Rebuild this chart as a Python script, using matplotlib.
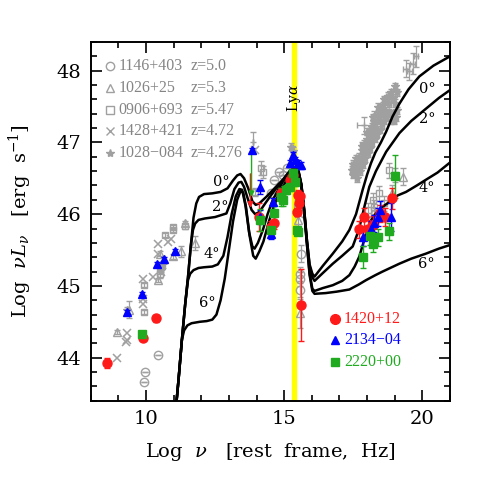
import matplotlib.pyplot as plt
import numpy as np

plt.rcParams['font.family'] = ['DejaVu Serif']
plt.rcParams['mathtext.fontset'] = 'dejavuserif'

GRAY = '#a0a0a0'
RED = '#ff1a1a'
BLUE = '#0000ff'
GREEN = '#1faa1f'

# ---- model curves (viewing angle 0,2,4,6 deg) ----
c0_x = [11.06, 11.18, 11.30, 11.42, 11.52, 11.62, 11.72, 11.82, 11.92, 12.1, 12.4, 12.7, 12.95, 13.15, 13.3, 13.42,
        13.55, 13.7, 13.85, 13.97, 14.1, 14.35, 14.65, 14.95, 15.2, 15.4, 15.52, 15.62, 15.72, 15.82, 15.92, 16.02,
        16.1, 16.4, 16.76, 17.1, 17.36, 17.6, 17.84, 18.0, 18.14, 18.3, 18.5, 18.69, 18.92, 19.17, 19.5, 19.89,
        20.4, 21.0]
c0_y = [43.2, 43.7, 44.25, 44.75, 45.12, 45.55, 45.95, 46.15, 46.24, 46.28, 46.29, 46.31, 46.36, 46.47, 46.54, 46.56,
        46.5, 46.36, 46.18, 46.13, 46.15, 46.24, 46.36, 46.48, 46.6, 46.65, 46.6, 46.42, 46.08, 45.65, 45.3, 45.17,
        45.13, 45.28, 45.45, 45.62, 45.78, 46.0, 46.34, 46.55, 46.71, 46.86, 47.0, 47.15, 47.36, 47.54, 47.74, 47.92,
        48.07, 48.2]

c2_x = [11.06, 11.18, 11.30, 11.42, 11.52, 11.62, 11.7, 11.78, 11.9, 12.13, 12.5, 12.91, 13.05, 13.2, 13.35, 13.45,
        13.55, 13.68, 13.82, 13.95, 14.1, 14.35, 14.65, 14.95, 15.2, 15.4, 15.52, 15.62, 15.72, 15.82, 15.92, 16.02,
        16.1, 16.4, 16.76, 17.1, 17.48, 17.7, 17.9, 18.08, 18.32, 18.69, 19.17, 19.6, 20.13, 20.6, 21.0]
c2_y = [43.2, 43.7, 44.25, 44.75, 45.12, 45.55, 45.78, 45.87, 45.92, 45.94, 45.96, 46.01, 46.15, 46.35, 46.44, 46.45,
        46.38, 46.22, 46.06, 46.0, 46.03, 46.17, 46.33, 46.47, 46.6, 46.65, 46.6, 46.42, 46.08, 45.65, 45.28, 45.12,
        45.07, 45.18, 45.31, 45.42, 45.55, 45.78, 46.1, 46.38, 46.6, 46.87, 47.13, 47.3, 47.47, 47.62, 47.73]

c4_x = [11.06, 11.18, 11.30, 11.42, 11.52, 11.6, 11.72, 11.9, 12.1, 12.4, 12.6, 12.8, 12.95, 13.1, 13.25, 13.38,
        13.48, 13.6, 13.73, 13.85, 13.93, 14.05, 14.23, 14.4, 14.59, 14.8, 14.95, 15.2, 15.4, 15.52, 15.62, 15.72,
        15.82, 15.92, 16.02, 16.1, 16.4, 16.76, 17.1, 17.36, 17.55, 17.72, 17.88, 18.02, 18.15, 18.32, 18.55,
        18.81, 19.1, 19.41, 19.8, 20.13, 20.55, 21.0]
c4_y = [43.2, 43.7, 44.25, 44.75, 45.08, 45.17, 45.22, 45.25, 45.26, 45.27, 45.3, 45.42, 45.68, 46.0, 46.25, 46.35,
        46.34, 46.12, 45.75, 45.55, 45.52, 45.6, 45.78, 46.0, 46.2, 46.35, 46.45, 46.58, 46.64, 46.58, 46.4, 46.05,
        45.6, 45.18, 44.96, 44.93, 44.97, 45.01, 45.07, 45.15, 45.27, 45.41, 45.62, 45.78, 45.92, 46.01, 46.1,
        46.17, 46.26, 46.31, 46.4, 46.48, 46.58, 46.72]

c6_x = [11.06, 11.18, 11.30, 11.38, 11.5, 11.65, 11.95, 12.2, 12.4, 12.55, 12.7, 12.85, 13.0, 13.15, 13.3, 13.42,
        13.52, 13.62, 13.75, 13.88, 13.97, 14.1, 14.25, 14.45, 14.6, 14.8, 14.95, 15.2, 15.4, 15.52, 15.62, 15.72,
        15.82, 15.92, 16.02, 16.1, 16.5, 16.9, 17.36, 17.7, 17.96, 18.3, 18.56, 19.17, 19.6, 20.13, 20.6, 21.0]
c6_y = [43.2, 43.7, 44.25, 44.38, 44.45, 44.48, 44.5, 44.51, 44.53, 44.6, 44.8, 45.1, 45.5, 45.9, 46.2, 46.32,
        46.3, 46.1, 45.7, 45.42, 45.38, 45.48, 45.62, 45.9, 46.08, 46.28, 46.38, 46.55, 46.63, 46.58, 46.4, 46.05,
        45.6, 45.15, 44.93, 44.89, 44.9, 44.92, 44.95, 45.02, 45.08, 45.15, 45.2, 45.31, 45.38, 45.45, 45.52, 45.57]

# ---- gray comparison sources ----
circ_x = [9.92, 9.96, 10.44, 14.53, 14.65, 14.83, 14.95, 15.1, 15.62, 15.59, 15.56, 15.56, 18.3]
circ_y = [43.66, 43.80, 44.04, 46.29, 46.47, 46.59, 46.55, 46.65, 45.45, 45.17, 45.1, 44.94, 46.0]
circ_e = [0, 0, 0, 0, 0, 0, 0, 0, 0.12, 0.1, 0.1, 0.1, 0.08]

tri_x = [8.96, 9.40, 10.44, 10.50, 10.98, 11.28, 11.43, 11.77, 15.5, 15.56, 19.31, 18.9]
tri_y = [44.36, 44.67, 45.08, 45.45, 45.41, 45.48, 45.87, 45.60, 45.92, 44.62, 46.52, 46.3]
tri_e = [0.03, 0.12, 0.03, 0.03, 0.03, 0.08, 0.03, 0.1, 0.08, 0.2, 0.12, 0.1]

sq_x = [9.92, 9.92, 10.50, 10.52, 10.68, 10.98, 10.98, 11.43, 14.17, 14.23, 13.93, 15.45,
        18.02, 18.2, 18.26, 18.44, 18.6, 18.80, 19.0]
sq_y = [44.64, 45.01, 45.24, 45.16, 45.71, 45.78, 45.82, 45.83, 46.64, 46.59, 46.31, 46.1,
        46.06, 46.2, 46.1, 46.29, 46.15, 46.61, 46.55]
sq_e = [0.03, 0.03, 0.05, 0.05, 0.03, 0.03, 0.03, 0.03, 0.1, 0.08, 0.05, 0.1,
        0.1, 0.1, 0.1, 0.1, 0.1, 0.1, 0.1]

cross_x = [8.94, 9.27, 9.32, 9.30, 9.88, 9.88, 9.90, 10.26, 10.44, 10.44, 10.56, 10.80, 10.92, 13.95, 15.55]
cross_y = [43.99, 44.22, 44.34, 44.25, 44.75, 44.82, 45.10, 45.13, 45.45, 45.59, 45.20, 45.61, 45.66, 46.9, 46.0]

star_x = [9.32, 10.56, 10.6, 15.26, 15.32,
          17.45, 17.55, 17.60, 17.65, 17.70, 17.72, 17.78, 17.82, 17.86, 17.90, 17.95, 18.00, 18.03, 18.08,
          18.12, 18.16, 18.20, 18.25, 18.30, 18.35, 18.40, 18.45, 18.52, 18.58, 18.65, 18.72, 18.80, 18.88,
          18.95, 19.02, 19.05, 18.98, 19.08, 18.90,
          17.50, 17.62, 17.75, 17.85, 17.92, 18.02, 18.10, 18.18, 18.28, 18.36, 18.45, 18.55, 18.62, 18.70,
          18.78, 18.85, 19.00, 19.10, 18.75, 18.60, 18.40, 18.20, 18.00, 17.80, 17.60, 17.48]
star_y = [44.66, 45.22, 45.3, 46.94, 46.88,
          46.62, 46.66, 46.58, 46.72, 46.66, 46.80, 46.75, 46.90, 46.84, 46.98, 46.92, 47.05, 46.98, 47.15,
          47.08, 47.22, 47.14, 47.30, 47.22, 47.38, 47.30, 47.45, 47.38, 47.52, 47.45, 47.60, 47.55, 47.70,
          47.62, 47.78, 47.35, 47.30, 47.45, 47.40,
          46.55, 46.50, 46.60, 46.70, 46.78, 46.85, 46.92, 47.00, 47.05, 47.12, 47.18, 47.25, 47.30, 47.36,
          47.42, 47.30, 47.55, 47.70, 47.65, 47.60, 47.50, 47.35, 47.15, 46.95, 46.78, 46.70]

# gray points with large error bars (X-ray)
gbig_x = [17.9, 18.26, 19.41, 19.53, 19.65, 19.77, 13.87]
gbig_y = [47.24, 47.36, 48.03, 47.99, 48.10, 48.20, 47.0]
gbig_xe = [0.25, 0.12, 0.1, 0.08, 0.08, 0.08, 0.0]
gbig_ye = [0.12, 0.08, 0.12, 0.12, 0.15, 0.15, 0.15]

# ---- highlighted sources ----
red_x = [8.58, 9.88, 10.38, 14.09, 14.53, 14.62, 14.89, 15.2, 15.32, 15.5, 15.52, 15.47, 15.56, 15.62,
         17.70, 17.88, 18.05, 18.2, 18.45, 18.65, 18.89]
red_y = [43.93, 44.28, 44.55, 45.96, 45.82, 45.88, 46.29, 46.47, 46.55, 46.27, 46.15, 46.03, 46.25, 44.73,
         45.79, 45.96, 45.80, 45.85, 46.01, 45.96, 46.22]
red_e = [0.07, 0.03, 0.05, 0.2, 0.08, 0.08, 0.08, 0.08, 0.08, 0.06, 0.06, 0.05, 0.06, 0.5,
         0.12, 0.12, 0.12, 0.12, 0.12, 0.12, 0.15]

blue_x = [9.30, 9.86, 10.41, 10.65, 11.04, 13.82, 14.11, 14.11, 14.53, 14.59, 15.2, 15.32, 15.38, 15.5, 15.62,
          17.84, 18.14, 18.26, 18.38, 18.48, 18.87]
blue_y = [44.64, 44.89, 45.30, 45.37, 45.49, 46.89, 46.38, 45.96, 45.73, 46.17, 46.71, 46.82, 46.75, 46.71, 46.68,
          45.68, 45.79, 45.87, 45.96, 46.06, 45.96]
blue_e = [0.03, 0.03, 0.03, 0.03, 0.03, 0.03, 0.1, 0.1, 0.08, 0.05, 0.05, 0.05, 0.05, 0.05, 0.05,
          0.12, 0.12, 0.12, 0.12, 0.12, 0.2]

green_x = [9.84, 14.11, 14.53, 14.65, 14.89, 14.95, 15.08, 15.22, 15.32, 15.38, 15.46, 15.5,
           17.84, 18.12, 18.23, 18.41, 18.78, 19.01]
green_y = [44.33, 45.92, 45.78, 46.01, 46.24, 46.2, 46.34, 46.38, 46.57, 46.45, 45.78, 45.75,
           45.40, 45.69, 45.59, 45.68, 45.76, 46.53]
green_e = [0.03, 0.15, 0.08, 0.1, 0.12, 0.08, 0.06, 0.06, 0.06, 0.06, 0.04, 0.04,
           0.15, 0.12, 0.12, 0.12, 0.12, 0.3]

# upper limits (x, top, tip)
lim_red = (13.78, 46.6, 46.05)
lim_green = (13.82, 46.87, 46.2)

fig = plt.figure(figsize=(4.91, 4.91), dpi=100)
ax = fig.add_axes([0.1847, 0.1839, 0.7318, 0.7306])

ax.axvspan(15.30, 15.44, color='#ffff00', zorder=1)
ax.text(15.37, 47.62, r'Ly$\alpha$', rotation=90, ha='center', va='center', fontsize=10, zorder=6)

# gray points
ekw = dict(ls='none', ecolor=GRAY, elinewidth=0.9, capsize=2, zorder=2)
ax.errorbar(circ_x, circ_y, yerr=circ_e, marker='o', ms=6, mfc='none', mec=GRAY, mew=1.0, **ekw)
ax.errorbar(tri_x, tri_y, yerr=tri_e, marker='^', ms=6, mfc='none', mec=GRAY, mew=1.0, **ekw)
ax.errorbar(sq_x, sq_y, yerr=sq_e, marker='s', ms=5, mfc='none', mec=GRAY, mew=1.0, **ekw)
ax.plot(cross_x, cross_y, ls='none', marker='x', ms=6, mec=GRAY, mew=1.1, zorder=2)
ax.errorbar(star_x, star_y, xerr=0.05, yerr=0.05, marker='*', ms=6, color=GRAY, **ekw)
ax.errorbar(gbig_x, gbig_y, xerr=gbig_xe, yerr=gbig_ye, marker='+', ms=5, color=GRAY, **ekw)

# model curves
for cx, cy in [(c0_x, c0_y), (c2_x, c2_y), (c4_x, c4_y), (c6_x, c6_y)]:
    ax.plot(cx, cy, color='black', lw=1.8, zorder=4)

# highlighted sources
ax.errorbar(red_x, red_y, yerr=red_e, ls='none', marker='o', ms=6.5, color=RED, capsize=2.5, elinewidth=1, zorder=5)
ax.errorbar(blue_x, blue_y, yerr=blue_e, ls='none', marker='^', ms=6, color=BLUE, capsize=2.5, elinewidth=1, zorder=5)
ax.errorbar(green_x, green_y, yerr=green_e, ls='none', marker='s', ms=5.5, color=GREEN, capsize=2.5, elinewidth=1, zorder=5)
for (lx, ltop, ltip), col in [(lim_red, RED), (lim_green, GREEN)]:
    ax.annotate('', xy=(lx, ltip), xytext=(lx, ltop),
                arrowprops=dict(arrowstyle='-|>', color=col, lw=1, mutation_scale=8), zorder=5)

# angle labels
for tx, ty, s in [(12.73, 46.45, '0°'), (12.67, 46.10, '2°'), (12.37, 45.45, '4°'), (12.21, 44.76, '6°'),
                  (20.19, 47.75, '0°'), (20.19, 47.32, '2°'), (20.15, 46.36, '4°'), (20.15, 45.30, '6°')]:
    ax.text(tx, ty, s, fontsize=10.5, ha='center', va='center', zorder=6)

# gray legend
LEGFONT = ['Liberation Serif', 'DejaVu Serif']
names = ['1146+403', '1026+25', '0906+693', '1428+421', '1028\u2212084']
zs = ['z=5.0', 'z=5.3', 'z=5.47', 'z=4.72', 'z=4.276']
marks = ['o', '^', 's', 'x', '*']
for i in range(5):
    yy = 0.932 - i * 0.0605
    ax.plot(0.053, yy, marker=marks[i], ms=6, mfc='none' if marks[i] in 'o^s' else GRAY, mec=GRAY,
            mew=1.0, transform=ax.transAxes, clip_on=False)
    ax.text(0.078, yy, names[i], color='#858585', fontsize=11.5, va='center', family=LEGFONT,
            transform=ax.transAxes)
    ax.text(0.278, yy, zs[i], color='#858585', fontsize=11.5, va='center', family=LEGFONT,
            transform=ax.transAxes)

# colour legend
leg_names = ['1420+12', '2134\u221204', '2220+00']
leg_cols = [RED, BLUE, GREEN]
leg_marks = ['o', '^', 's']
for i in range(3):
    yy = 0.229 - i * 0.0605
    ax.plot(0.68, yy, marker=leg_marks[i], ms=7 if i == 0 else 6, color=leg_cols[i], transform=ax.transAxes)
    ax.text(0.705, yy, leg_names[i], color=leg_cols[i], fontsize=11.5, va='center', family=LEGFONT,
            transform=ax.transAxes)

ax.set_xlim(8, 21)
ax.set_ylim(43.4, 48.4)
ax.set_xticks([10, 15, 20])
ax.set_yticks([44, 45, 46, 47, 48])
ax.set_xticks(np.arange(8, 22, 1), minor=True)
ax.set_yticks(np.arange(43.4, 48.41, 0.2), minor=True)
ax.tick_params(which='both', direction='in', top=True, right=True, width=1.2, labelsize=14)
ax.tick_params(which='major', length=8, pad=7)
ax.tick_params(which='minor', length=4.3)
for sp in ax.spines.values():
    sp.set_linewidth(1.4)

ax.set_xlabel(r'Log  $\nu$   [rest  frame,  Hz]', fontsize=14, labelpad=9)
ax.set_ylabel(r'Log  $\nu L_\nu$   [erg  s$^{-1}$]', fontsize=14, labelpad=16)

fig.savefig('out.png', dpi=100)
